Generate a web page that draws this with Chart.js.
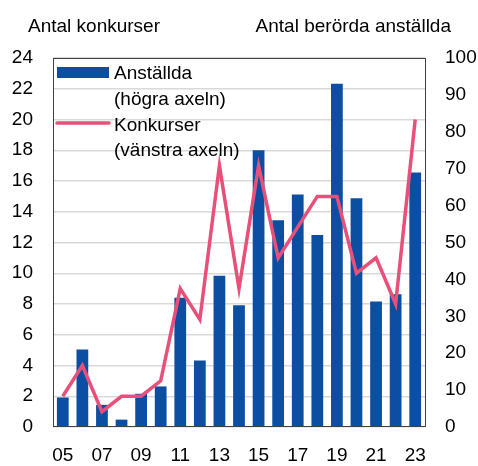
<!DOCTYPE html>
<html>
<head>
<meta charset="utf-8">
<script src="https://cdn.jsdelivr.net/npm/chart.js@4.4.0/dist/chart.umd.min.js"></script>
<style>
  body { margin: 0; background: #fff; }
  #wrap { width: 478px; height: 466px; position: relative; }
</style>
</head>
<body>
<div id="wrap"><canvas id="chart"></canvas></div>
<script>
// År (x-axeln)
const years = ['05', '06', '07', '08', '09', '10', '11', '12', '13', '14', '15', '16', '17', '18', '19', '20', '21', '22', '23'];
// Antal berörda anställda (högra axeln)
const anstallda = [8, 21, 6, 2, 9, 11, 35, 18, 41, 33, 75, 56, 63, 52, 93, 62, 34, 36, 69];
// Antal konkurser (vänstra axeln)
const konkurser = [2, 4, 1, 2, 2, 3, 9, 7, 17, 9, 17, 11, 13, 15, 15, 10, 11, 8, 20];

const leftTitle = 'Antal konkurser';
const rightTitle = 'Antal berörda anställda';
const legendLines = [['Anställda', '(högra axeln)'], ['Konkurser', '(vänstra axeln)']];

const BAR_COLOR = '#0B4EA2';
const LINE_COLOR = '#E8507A';
const FONT = 'Liberation Sans';

Chart.defaults.font.family = FONT;
Chart.defaults.font.size = 19;
Chart.defaults.color = '#000';

// Ram, rubriker och förklaring ritas direkt på canvas
const decorations = {
    id: 'decorations',
    afterDraw(chart) {
        const { ctx, chartArea: a } = chart;
        ctx.save();

        // ram runt diagramytan
        ctx.strokeStyle = '#404040';
        ctx.lineWidth = 1;
        ctx.strokeRect(a.left + 0.5, a.top + 0.5, a.right - a.left, a.bottom - a.top - 1);

        // axelrubriker
        ctx.fillStyle = '#000';
        ctx.font = '19px "' + FONT + '"';
        ctx.textBaseline = 'alphabetic';
        ctx.textAlign = 'left';
        ctx.fillText(leftTitle, 28, 32);
        ctx.textAlign = 'right';
        ctx.fillText(rightTitle, 451, 32);

        // förklaring
        const x0 = a.left + 4, x1 = a.left + 56, tx = a.left + 61;
        ctx.fillStyle = BAR_COLOR;
        ctx.fillRect(x0, a.top + 9, x1 - x0, 11);
        ctx.strokeStyle = LINE_COLOR;
        ctx.lineWidth = 3.5;
        ctx.lineCap = 'round';
        ctx.beginPath();
        ctx.moveTo(x0, a.top + 65);
        ctx.lineTo(x1, a.top + 65);
        ctx.stroke();

        ctx.fillStyle = '#000';
        ctx.textAlign = 'left';
        const baselines = [[a.top + 21, a.top + 46.5], [a.top + 72.5, a.top + 97.5]];
        legendLines.forEach((lines, i) => {
            lines.forEach((t, j) => ctx.fillText(t, tx, baselines[i][j]));
        });
        ctx.restore();
    }
};

new Chart(document.getElementById('chart'), {
    type: 'bar',
    data: {
        labels: years,
        datasets: [
            {
                type: 'line',
                label: 'Konkurser',
                data: konkurser,
                yAxisID: 'yLeft',
                borderColor: LINE_COLOR,
                borderWidth: 3.5,
                pointRadius: 0,
                tension: 0,
                order: 0
            },
            {
                type: 'bar',
                label: 'Anställda',
                data: anstallda,
                yAxisID: 'yRight',
                backgroundColor: BAR_COLOR,
                barPercentage: 0.6,
                categoryPercentage: 1,
                order: 1
            }
        ]
    },
    options: {
        responsive: true,
        maintainAspectRatio: false,
        animation: false,
        layout: { padding: { top: 58, left: 0, right: 0, bottom: 0 } },
        plugins: { legend: { display: false }, tooltip: { enabled: false } },
        scales: {
            x: {
                offset: true,
                grid: { display: false, drawTicks: false },
                border: { display: false },
                ticks: {
                    autoSkip: false,
                    maxRotation: 0,
                    padding: 17,
                    callback: (v, i) => (i % 2 === 0 ? years[i] : '')
                },
                afterFit: s => { s.height = 39; }
            },
            yLeft: {
                position: 'left',
                min: 0,
                max: 24,
                ticks: { stepSize: 2, padding: 20 },
                grid: {
                    drawTicks: false,
                    color: '#D9D9D9',
                    lineWidth: 1.5
                },
                border: { display: false },
                afterFit: s => { s.width = 53; }
            },
            yRight: {
                position: 'right',
                min: 0,
                max: 100,
                ticks: { stepSize: 10, padding: 20 },
                grid: { display: false, drawTicks: false },
                border: { display: false },
                afterFit: s => { s.width = 53; }
            }
        }
    },
    plugins: [decorations]
});
</script>
</body>
</html>
